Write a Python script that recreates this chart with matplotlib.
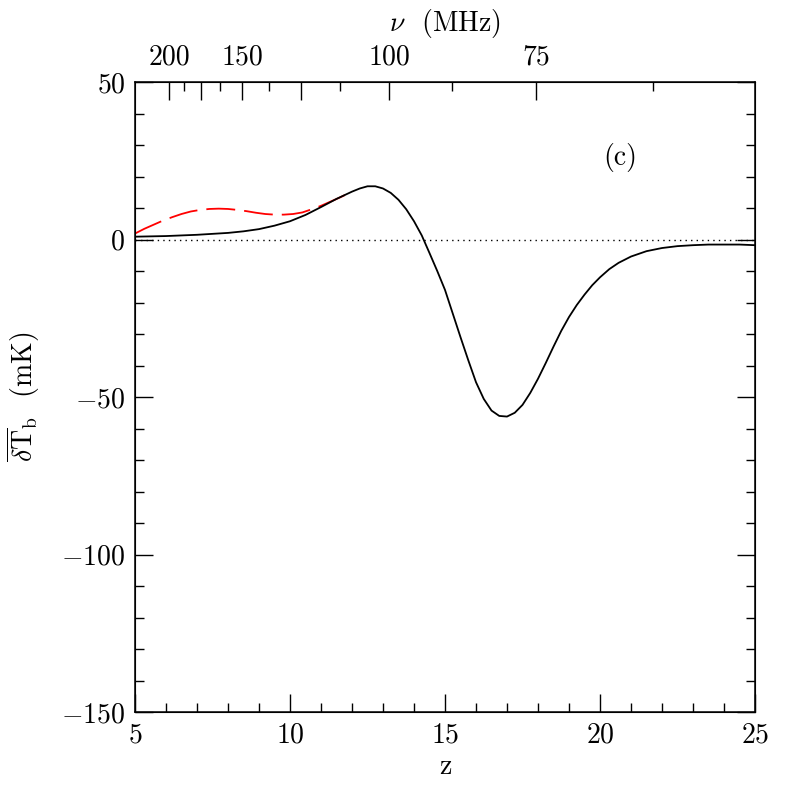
import numpy as np
import matplotlib
matplotlib.use("Agg")
import matplotlib.pyplot as plt
from matplotlib.ticker import MultipleLocator, FixedLocator

# black curve: mean brightness temperature (mK) vs redshift
z_black = [5.0, 5.5, 6.0, 6.5, 7.0, 7.5, 8.0, 8.5, 9.0, 9.5, 10.0, 10.5, 11.0,
           11.5, 12.0, 12.25, 12.5, 12.75, 13.0, 13.25, 13.5, 13.75, 14.0,
           14.25, 14.5, 14.75, 15.0, 15.25, 15.5, 15.75, 16.0, 16.25, 16.5,
           16.75, 17.0, 17.25, 17.5, 17.75, 18.0, 18.25, 18.5, 18.75, 19.0,
           19.25, 19.5, 19.75, 20.0, 20.3, 20.6, 21.0, 21.5, 22.0, 22.5, 23.0,
           23.5, 24.0, 24.5, 25.0]
t_black = [0.9, 1.0, 1.1, 1.3, 1.5, 1.8, 2.1, 2.6, 3.3, 4.4, 5.8, 7.8, 10.3,
           12.9, 15.2, 16.2, 16.9, 16.9, 16.2, 14.8, 12.6, 9.6, 5.8,
           1.3, -4.3, -10.0, -16.0, -23.5, -31.0, -38.3, -45.3, -50.6, -54.3,
           -56.0, -56.2, -55.0, -52.5, -48.7, -44.2, -39.2, -34.0, -29.0,
           -24.6, -20.8, -17.5, -14.5, -12.0, -9.4, -7.4, -5.4, -3.7, -2.7,
           -2.1, -1.8, -1.6, -1.6, -1.6, -1.8]

# red dashed curve (differs only at low z)
z_red = [5.0, 5.3, 5.6, 5.9, 6.2, 6.5, 6.8, 7.1, 7.4, 7.7, 8.0, 8.3, 8.6,
         8.9, 9.2, 9.5, 9.8, 10.1, 10.4, 10.7, 11.0, 11.3, 11.6, 12.0]
t_red = [1.9, 3.4, 4.7, 6.0, 7.1, 8.1, 8.9, 9.4, 9.7, 9.8, 9.7, 9.4, 9.0,
         8.5, 8.1, 7.9, 7.9, 8.1, 8.6, 9.6, 10.7, 12.0, 13.3, 15.2]

nu_major = [200, 175, 150, 125, 100, 75]
nu_labels = ["200", "", "150", "", "100", "75"]
nu_minor = [187.5, 162.5, 137.5, 112.5, 87.5, 62.5]

plt.rcParams["font.family"] = ["cmr10", "DejaVu Serif"]
plt.rcParams["mathtext.fontset"] = "cm"
plt.rcParams["axes.formatter.use_mathtext"] = True
plt.rcParams["axes.unicode_minus"] = True

FS = 20

fig = plt.figure(figsize=(7.97, 7.97), dpi=100)
ax = fig.add_axes([0.1694, 0.1066, 0.7779, 0.7905])

ax.axhline(0, color="black", lw=1.0, ls=(0, (1, 3)))
ax.plot(z_red, t_red, color="red", lw=1.3, ls=(0, (16, 5)))
ax.plot(z_black, t_black, color="black", lw=1.3)

ax.set_xlim(5, 25)
ax.set_ylim(-150, 50)
ax.xaxis.set_major_locator(MultipleLocator(5))
ax.xaxis.set_minor_locator(MultipleLocator(1))
ax.yaxis.set_major_locator(MultipleLocator(50))
ax.yaxis.set_minor_locator(MultipleLocator(10))
ax.tick_params(which="both", direction="in", top=False, right=True,
               labelsize=FS, width=1.0)
ax.tick_params(which="major", length=13, pad=7)
ax.tick_params(which="minor", length=6.5)
for s in ax.spines.values():
    s.set_linewidth(1.1)

ax.set_xlabel("z", fontsize=FS, labelpad=4)
ax.set_ylabel(r"$\overline{\delta{\rm T}}_{\rm b}$  (mK)", fontsize=FS,
              labelpad=14)

ax.text(20.65, 25.9, "(c)", fontsize=FS, ha="center", va="center")

# top axis in frequency, nu = 1420 / (1 + z)
top = ax.twiny()
top.set_xlim(ax.get_xlim())
top.xaxis.set_major_locator(FixedLocator([1420.0 / n - 1 for n in nu_major]))
top.set_xticklabels(nu_labels)
top.xaxis.set_minor_locator(FixedLocator([1420.0 / n - 1 for n in nu_minor]))
top.tick_params(which="both", direction="in", labelsize=FS, width=1.0)
top.tick_params(which="major", length=13, pad=8)
top.tick_params(which="minor", length=6.5)
top.set_xlabel(r"$\nu$  (MHz)", fontsize=FS, labelpad=10)

fig.savefig("out.png", dpi=100)
